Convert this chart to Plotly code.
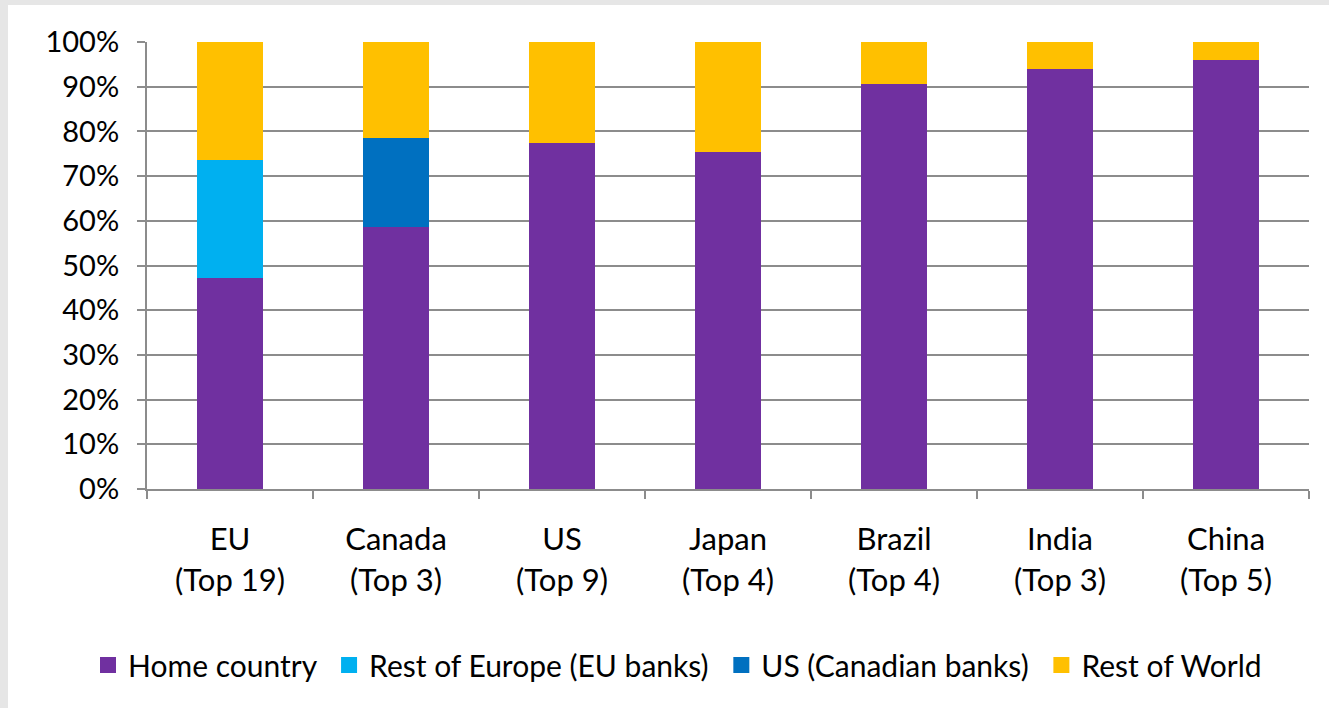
import plotly.graph_objects as go

categories = ["EU<br>(Top 19)", "Canada<br>(Top 3)", "US<br>(Top 9)", "Japan<br>(Top 4)",
              "Brazil<br>(Top 4)", "India<br>(Top 3)", "China<br>(Top 5)"]
home_country = [47.2, 58.6, 77.4, 75.4, 90.6, 94.0, 96.0]
rest_of_europe = [26.4, 0, 0, 0, 0, 0, 0]
us_canadian = [0, 19.9, 0, 0, 0, 0, 0]
rest_of_world = [26.4, 21.5, 22.6, 24.6, 9.4, 6.0, 4.0]

series = [
    ("Home country", home_country, "#7030A0"),
    ("Rest of Europe (EU banks)", rest_of_europe, "#00B0F0"),
    ("US (Canadian banks)", us_canadian, "#0070C0"),
    ("Rest of World", rest_of_world, "#FFC000"),
]

FONT = "Lato"
fig = go.Figure()
for name, vals, col in series:
    fig.add_trace(go.Bar(x=categories, y=vals, name=name, marker=dict(color=col, line=dict(width=0)),
                         showlegend=False))
for i, (name, vals, col) in enumerate(series):
    label = name + ("\u00a0" if i < len(series) - 1 else "")
    fig.add_trace(go.Scatter(x=[None], y=[None], mode="markers", name=label,
                             marker=dict(symbol="square", size=20, color=col)))

W, H = 1329, 708
L, R, T, B = 147, 20, 42, 219
pw, ph = W - L - R, H - T - B

fig.add_shape(type="rect", xref="paper", yref="paper",
              x0=(8 - L) / pw, x1=(W - L) / pw + 0.01, y0=-(H - T - ph) / ph - 0.01, y1=1 + (T - 5) / ph,
              fillcolor="white", line=dict(width=0), layer="below")

fig.update_layout(
    width=W, height=H,
    margin=dict(l=L, r=R, t=T, b=B),
    barmode="stack", bargap=0.6,
    paper_bgcolor="#e6e6e6", plot_bgcolor="white",
    font=dict(family=FONT, size=29, color="black"),
    legend=dict(orientation="h", xref="paper", x=(88 - L) / pw, xanchor="left",
                yref="paper", y=-(665 - T - ph) / ph, yanchor="middle", traceorder="normal",
                font=dict(family=FONT, size=30, color="black"), itemsizing="trace",
                bgcolor="rgba(0,0,0,0)"),
    showlegend=True,
)
fig.update_yaxes(range=[0, 100], dtick=10, ticksuffix="%", showgrid=True, gridcolor="#8c8c8c", gridwidth=2,
                 showline=True, linecolor="#8c8c8c", linewidth=2, ticks="outside", ticklen=8,
                 tickcolor="#8c8c8c", tickwidth=2, zeroline=False, fixedrange=True,
                 ticklabelstandoff=12, tickfont=dict(family=FONT, size=29, color="black"))
fig.update_xaxes(showline=True, linecolor="#8c8c8c", linewidth=2, ticks="outside", ticklen=8,
                 tickcolor="#8c8c8c", tickwidth=2, tickson="boundaries", showgrid=False,
                 ticklabelstandoff=22, tickfont=dict(family=FONT, size=31, color="black"))

fig.write_html("out.html")
